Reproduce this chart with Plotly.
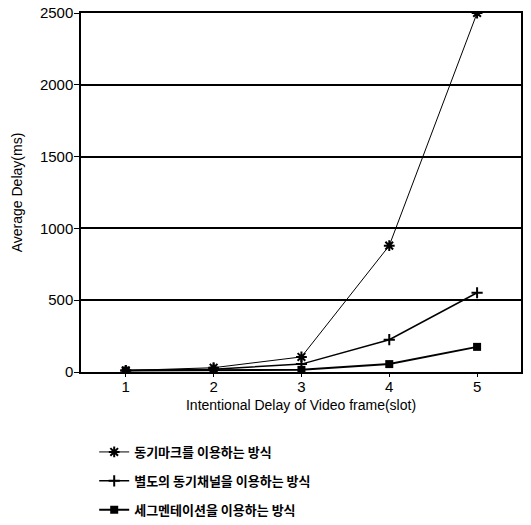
import plotly.graph_objects as go

# Intentional delay of a video frame (slots)
slots = [1, 2, 3, 4, 5]

# Average delay (ms) for each synchronisation method
sync_mark = [10, 30, 105, 880, 2500]
separate_channel = [10, 20, 55, 225, 552]
segmentation = [10, 10, 15, 55, 175]

series_names = [
    "동기마크를 이용하는 방식",
    "별도의 동기채널을 이용하는 방식",
    "세그멘테이션을 이용하는 방식",
]

y_ticks = [0, 500, 1000, 1500, 2000, 2500]

fig = go.Figure()

fig.add_trace(go.Scatter(
    x=slots, y=sync_mark, name=series_names[0], legendgroup="a",
    mode="lines+markers",
    line=dict(color="black", width=1),
    marker=dict(symbol="asterisk-open", size=9, color="black",
                line=dict(color="black", width=2)),
))
fig.add_trace(go.Scatter(
    x=slots, y=separate_channel, name=series_names[1], legendgroup="b",
    mode="lines+markers",
    line=dict(color="black", width=1.5),
    marker=dict(symbol="cross-thin-open", size=8, color="black",
                line=dict(color="black", width=2)),
))
fig.add_trace(go.Scatter(
    x=slots, y=segmentation, name=series_names[2], legendgroup="c",
    mode="lines+markers",
    line=dict(color="black", width=2),
    marker=dict(symbol="square", size=8, color="black"),
))

axis_font = dict(family="Liberation Sans, Arial, sans-serif", size=14, color="black")
tick_font = dict(family="Liberation Sans, Arial, sans-serif", size=15, color="black")

fig.update_layout(
    width=531, height=525,
    margin=dict(l=81, r=10, t=13, b=153, autoexpand=False),
    paper_bgcolor="white", plot_bgcolor="white",
    font=axis_font,
    showlegend=True,
    legend=dict(
        x=0.03, y=-0.181, xanchor="left", yanchor="top",
        orientation="v",
        tracegroupgap=9,
        itemwidth=30,
        font=dict(family="Noto Sans CJK KR, sans-serif", size=13, color="black", weight="bold"),
        bgcolor="rgba(0,0,0,0)",
    ),
    xaxis=dict(
        range=[0.49, 5.5],
        tickmode="array", tickvals=slots, ticktext=[str(s) for s in slots],
        showline=True, linecolor="black", linewidth=1.5, mirror=True,
        ticks="outside", ticklen=3, tickcolor="black",
        ticklabelstandoff=-3,
        showgrid=False, zeroline=False,
        tickfont=tick_font,
        title=dict(text="Intentional Delay of Video frame(slot)", font=axis_font, standoff=6),
    ),
    yaxis=dict(
        range=[0, 2500],
        tickmode="array", tickvals=y_ticks, ticktext=[str(v) for v in y_ticks],
        showline=True, linecolor="black", linewidth=1.5, mirror=True,
        ticks="outside", ticklen=5, tickcolor="black",
        ticklabelstandoff=-2,
        showgrid=True, gridcolor="black", gridwidth=1.5,
        zeroline=False,
        tickfont=tick_font,
        title=dict(text="Average Delay(ms)", font=axis_font, standoff=14),
    ),
)

fig.write_html("out.html")
